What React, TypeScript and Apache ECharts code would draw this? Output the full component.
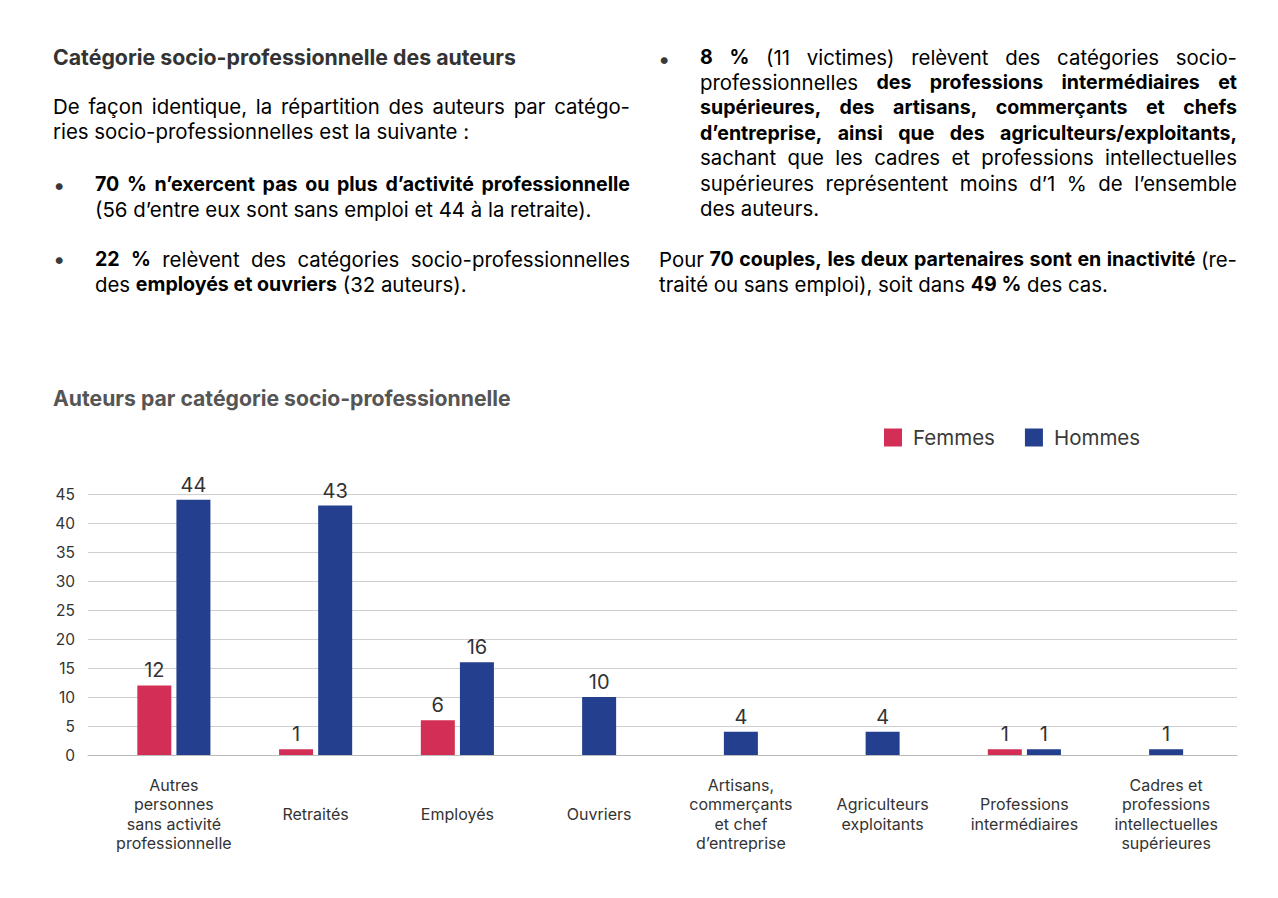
import React, { useEffect, useRef } from "react";
import * as echarts from "echarts";

const categories = [
  "Autres\npersonnes\nsans activité\nprofessionnelle",
  "Retraités",
  "Employés",
  "Ouvriers",
  "Artisans,\ncommerçants\net chef\nd’entreprise",
  "Agriculteurs\nexploitants",
  "Professions\nintermédiaires",
  "Cadres et\nprofessions\nintellectuelles\nsupérieures",
];
const femmes = [12, 1, 6, 0, 0, 0, 1, 0];
const hommes = [44, 43, 16, 10, 4, 4, 1, 1];
const seriesNames = ["Femmes", "Hommes"];
const yMax = 45;
const yInterval = 5;

const chartTitle = "Auteurs par catégorie socio-professionnelle";
const sectionTitle = "Catégorie socio-professionnelle des auteurs";

const leftLines = [
  "{r|De façon identique, la répartition des auteurs par catégo-}",
  "{r|ries socio-professionnelles est la suivante :}",
];
const bullet1 = [
  "{b|70 % n’exercent pas ou plus d’activité professionnelle}",
  "{r|(56 d’entre eux sont sans emploi et 44 à la retraite).}",
];
const bullet2 = [
  "{b|22 %}{r| relèvent des catégories socio-professionnelles}",
  "{r|des }{b|employés et ouvriers}{r| (32 auteurs).}",
];
const bullet3 = [
  "{b|8 %}{r| (11 victimes) relèvent des catégories socio-}",
  "{r|professionnelles }{b|des professions intermédiaires et}",
  "{b|supérieures, des artisans, commerçants et chefs}",
  "{b|d’entreprise, ainsi que des agriculteurs/exploitants,}",
  "{r|sachant que les cadres et professions intellectuelles}",
  "{r|supérieures représentent moins d’1 % de l’ensemble}",
  "{r|des auteurs.}",
];
const rightPara = [
  "{r|Pour }{b|70 couples, les deux partenaires sont en inactivité}{r| (re-}",
  "{r|traité ou sans emploi), soit dans }{b|49 %}{r| des cas.}",
];

const PINK = "#D32F56";
const BLUE = "#233F8E";
const TXT = "#3a3a3a";
const BTXT = "#333333";
const FONT = "Inter, 'Open Sans', sans-serif";
const R_SIZE = 20.4;
const B_SIZE = 19.6;

export default function App() {
  const ref = useRef<HTMLDivElement>(null);
  useEffect(() => {
    document.body.style.margin = "0";
    const chart = echarts.init(ref.current!, null, { renderer: "svg" });

    const ctx = document.createElement("canvas").getContext("2d")!;
    const measure = (t: string, bold: boolean) => {
      ctx.font = `normal ${bold ? "bold" : "normal"} ${bold ? B_SIZE : R_SIZE}px ${FONT}`;
      return ctx.measureText(t).width;
    };
    const baseRich = {
      r: { fontFamily: FONT, fontSize: R_SIZE, fontWeight: "normal", color: TXT },
      b: { fontFamily: FONT, fontSize: B_SIZE, fontWeight: "bold", color: BTXT },
    };

    const LH = 25.2;
    const graphics: any[] = [];
    const buildLine = (src: string, x: number, y: number, right: number | null) => {
      if (right === null) {
        graphics.push({
          type: "text",
          x,
          y,
          style: { text: src, rich: baseRich, verticalAlign: "middle", align: "left" },
        });
        return;
      }
      const runs: { s: string; t: string }[] = [];
      const re = /\{([a-z]+)\|([^}]*)\}/g;
      let m: RegExpExecArray | null;
      while ((m = re.exec(src))) runs.push({ s: m[1], t: m[2] });
      const parts: { s: string; t: string; space: boolean }[] = [];
      runs.forEach((r) => {
        const pieces = r.t.split(" ");
        pieces.forEach((p, i) => {
          if (i > 0) parts.push({ s: r.s, t: " ", space: true });
          if (p) parts.push({ s: r.s, t: p, space: false });
        });
      });
      let natural = 0;
      let nSpace = 0;
      parts.forEach((p) => {
        if (p.space) nSpace++;
        else natural += measure(p.t, p.s === "b");
      });
      const avail = right - x - natural;
      const each = Math.max(2.5, nSpace ? avail / nSpace : 0);
      const rich: any = { ...baseRich, sp: { width: each, height: 10 } };
      const text = parts.map((p) => (p.space ? "{sp|}" : `{${p.s}|${p.t}}`)).join("");
      graphics.push({
        type: "text",
        x,
        y,
        style: { text, rich, verticalAlign: "middle", align: "left" },
      });
    };
    const addLines = (lines: string[], x: number, y0: number, right: number) => {
      lines.forEach((t, i) => {
        const isLast = i === lines.length - 1;
        buildLine(t, x, y0 + i * LH, isLast ? null : right);
      });
    };
    const addBullet = (x: number, y: number) => {
      graphics.push({
        type: "text",
        x,
        y,
        style: { text: "•", fontFamily: FONT, fontSize: 22, fill: TXT, verticalAlign: "middle" },
      });
    };
    graphics.push({
      type: "text",
      x: 53,
      y: 57,
      style: { text: sectionTitle, fontFamily: FONT, fontSize: 21.3, fontWeight: "bold", fill: "#333", verticalAlign: "middle" },
    });
    addLines(leftLines, 53, 106, 630);
    addBullet(53, 185);
    addLines(bullet1, 95, 184, 630);
    addBullet(53, 259);
    addLines(bullet2, 95, 259, 630);
    addBullet(658, 59);
    addLines(bullet3, 700, 57, 1237);
    addLines(rightPara, 659, 259, 1237);
    graphics.push({
      type: "text",
      x: 53,
      y: 398,
      style: { text: chartTitle, fontFamily: FONT, fontSize: 21.2, fontWeight: "bold", fill: "#555", verticalAlign: "middle" },
    });

    const pairedF = femmes.map((v) => (v > 0 ? v : "-"));
    const pairedH = hommes.map((v, i) => (femmes[i] > 0 ? v : "-"));
    const singleH = hommes.map((v, i) => (femmes[i] > 0 ? "-" : v));
    const label = {
      show: true,
      position: "top",
      distance: 5,
      fontFamily: FONT,
      fontSize: 20,
      color: "#333",
    };

    chart.setOption({
      animation: false,
      textStyle: { fontFamily: FONT },
      graphic: graphics,
      legend: {
        data: seriesNames,
        left: 879,
        top: 422,
        itemWidth: 18,
        itemHeight: 18,
        itemGap: 30,
        icon: "rect",
        textStyle: { fontFamily: FONT, fontSize: 20.5, color: TXT, padding: [0, 0, 0, 6] },
      },
      grid: [
        { left: 88, right: 41, top: 494, bottom: 143, containLabel: false },
        { left: 103, right: 41, top: 494, bottom: 143, containLabel: false },
      ],
      xAxis: [
        {
          gridIndex: 0,
          type: "category",
          data: categories,
          axisLine: { show: true, lineStyle: { color: "#bbb", width: 1 } },
          axisTick: { show: false },
          axisLabel: { show: false },
        },
        {
          gridIndex: 1,
          type: "category",
          data: categories,
          axisLine: { show: false },
          axisTick: { show: false },
          axisLabel: {
            interval: 0,
            fontFamily: FONT,
            fontSize: 16,
            color: "#333",
            lineHeight: 19.5,
            verticalAlign: "middle",
            margin: 59,
          },
        },
        { gridIndex: 1, type: "category", data: categories, show: false },
      ],
      yAxis: [
        {
          gridIndex: 0,
          type: "value",
          min: 0,
          max: yMax,
          interval: yInterval,
          axisLine: { show: false },
          axisTick: { show: false },
          splitLine: { lineStyle: { color: "#cfcfcf", width: 1 } },
          axisLabel: { fontFamily: FONT, fontSize: 15.5, color: "#333", margin: 13 },
        },
        {
          gridIndex: 1,
          type: "value",
          min: 0,
          max: yMax,
          interval: yInterval,
          show: false,
          splitLine: { show: false },
        },
      ],
      series: [
        {
          name: "Femmes",
          type: "bar",
          xAxisIndex: 1,
          yAxisIndex: 1,
          data: pairedF,
          barWidth: 34,
          barGap: "15%",
          itemStyle: { color: PINK },
          label,
        },
        {
          name: "Hommes",
          type: "bar",
          xAxisIndex: 1,
          yAxisIndex: 1,
          data: pairedH,
          barWidth: 34,
          barGap: "15%",
          itemStyle: { color: BLUE },
          label,
        },
        {
          name: "Hommes",
          type: "bar",
          xAxisIndex: 2,
          yAxisIndex: 1,
          data: singleH,
          barWidth: 34,
          itemStyle: { color: BLUE },
          label,
        },
      ],
    });
    return () => chart.dispose();
  }, []);
  return (
    <div
      ref={ref}
      style={{ position: "absolute", left: 0, top: 0, width: 1278, height: 898, background: "#fff" }}
    />
  );
}
